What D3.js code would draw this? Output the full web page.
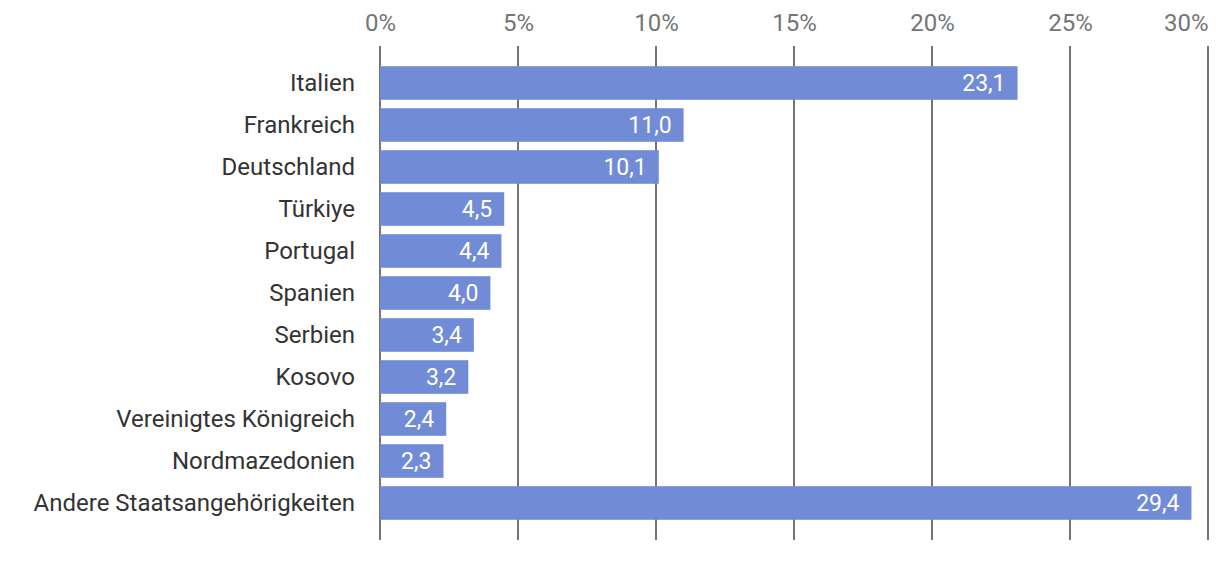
<!DOCTYPE html>
<html><head><meta charset="utf-8">
<script src="https://cdn.jsdelivr.net/npm/d3@7"></script>
<style>html,body{margin:0;padding:0;background:#fff;}svg{display:block;}</style>
</head><body><svg id="c" width="1220" height="582"></svg>
<script>
const categories = ["Italien","Frankreich","Deutschland","Türkiye","Portugal","Spanien","Serbien","Kosovo","Vereinigtes Königreich","Nordmazedonien","Andere Staatsangehörigkeiten"];
const values = [23.1,11.0,10.1,4.5,4.4,4.0,3.4,3.2,2.4,2.3,29.4];
const tickValues = [0,5,10,15,20,25,30];

const svg = d3.select("#c");
const x = d3.scaleLinear().domain([0,30]).range([380,1208]);
const y = d3.scaleBand().domain(categories).range([62,524]).paddingInner(0.2).paddingOuter(0.1);
const font = "Roboto, sans-serif";

// gridlines
svg.append("g").selectAll("line").data(tickValues).join("line")
  .attr("x1", d=>x(d)).attr("x2", d=>x(d)).attr("y1",46).attr("y2",540)
  .attr("stroke","#757575").attr("stroke-width",2);

// top axis labels
const ax = svg.append("g").attr("transform","translate(0,31)")
  .call(d3.axisTop(x).tickValues(tickValues).tickSize(0).tickPadding(0).tickFormat(d=>d+"%"));
ax.select(".domain").remove();
ax.selectAll("text").attr("font-family",font).attr("font-size",24).attr("fill","#757575")
  .attr("text-anchor", d=> d===30 ? "end" : "middle")
  .attr("x", d=> d===30 ? 1208 - x(30) : 0);

// bars
svg.append("g").selectAll("rect").data(values).join("rect")
  .attr("x", x(0)).attr("y",(d,i)=>y(categories[i]))
  .attr("width", d=>x(d)-x(0)).attr("height", y.bandwidth())
  .attr("fill","#728bd7");

// value labels
svg.append("g").selectAll("text").data(values).join("text")
  .attr("x", d=>x(d)-12).attr("y",(d,i)=>y(categories[i])+y.bandwidth()/2)
  .attr("dy","0.35em").attr("text-anchor","end")
  .attr("font-family",font).attr("font-size",23).attr("fill","#fff")
  .text(d=>d.toFixed(1).replace(".",","));

// category labels
const ay = svg.append("g").attr("transform","translate(380,0)")
  .call(d3.axisLeft(y).tickSize(0).tickPadding(25));
ay.select(".domain").remove();
ay.selectAll("text").attr("font-family",font).attr("font-size",24).attr("fill","#333");
</script></body></html>
